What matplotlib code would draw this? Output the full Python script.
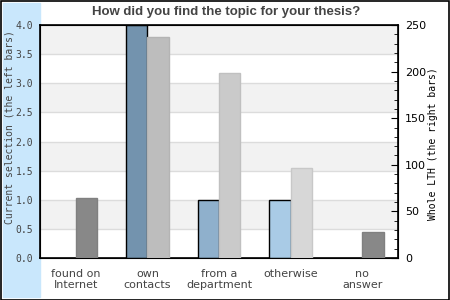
import numpy as np
import matplotlib
matplotlib.use("Agg")
import matplotlib.pyplot as plt
from matplotlib.patches import Rectangle
from matplotlib.ticker import MultipleLocator

# data
categories = ["found on\nInternet", "own\ncontacts", "from a\ndepartment", "otherwise", "no\nanswer"]
current = [0, 4, 1, 1, 0]
whole_lth = [64, 237, 199, 97, 28]
left_colors = ["#7393ae", "#7393ae", "#8fb0cc", "#a9cbe6", "#a9cbe6"]
right_colors = ["#888888", "#bdbdbd", "#cacaca", "#d7d7d7", "#888888"]
right_edges = ["#808080", "#b4b4b4", "#c0c0c0", "#c8c8c8", "#808080"]

txt = "#444444"
fig = plt.figure(figsize=(4.5, 3), dpi=100)

# light blue strip on the left and outer frame
fig.patches.append(Rectangle((3 / 450, 3 / 300), 37 / 450, 294 / 300,
                             transform=fig.transFigure, color="#c9e7fc", zorder=-2))
fig.patches.append(Rectangle((0.5 / 450, 0.5 / 300), 448.5 / 450, 298.5 / 300,
                             transform=fig.transFigure, fill=False,
                             edgecolor="black", lw=1.2, zorder=5))

ax = fig.add_axes([40 / 450, 42 / 300, 358 / 450, 233 / 300])
ax.set_xlim(0, 5)
ax.set_ylim(0, 4)
for lo in [0.5, 1.5, 2.5, 3.5]:
    ax.axhspan(lo, lo + 0.5, color="#f2f2f2", zorder=0, lw=0)
for y in np.arange(0.5, 4.0, 0.5):
    ax.axhline(y, color="#dcdcdc", lw=1, zorder=0.5)

x = np.arange(len(categories)) + 0.5
w = 0.3
for i in range(len(categories)):
    if current[i] > 0:
        ax.bar(x[i] - w / 2, current[i], w, color=left_colors[i],
               edgecolor="black", lw=1, zorder=3)

ax.set_yticks(np.arange(0, 4.01, 0.5))
ax.set_yticklabels([f"{v:.1f}" for v in np.arange(0, 4.01, 0.5)],
                   family="DejaVu Sans Mono", fontsize=7, color=txt)
ax.tick_params(axis="y", length=0, pad=5)
ax.set_xticks(x)
ax.set_xticklabels(categories, fontsize=8, color=txt, linespacing=1.1)
ax.tick_params(axis="x", length=0, pad=8)
ax.set_ylabel("Current selection (the left bars)", family="DejaVu Sans Mono",
              fontsize=7, color=txt, va="center")
ax.yaxis.set_label_coords(-30 / 358, 0.56)
for s in ax.spines.values():
    s.set_linewidth(1.2)

ax2 = ax.twinx()
ax2.set_ylim(0, 250)
ax2.bar(x + w / 2, whole_lth, w, color=right_colors, edgecolor=right_edges,
        lw=1, zorder=3)
ax2.yaxis.set_major_locator(MultipleLocator(50))
ax2.yaxis.set_minor_locator(MultipleLocator(10))
ax2.tick_params(axis="y", which="major", direction="in", length=5, labelsize=8,
                labelcolor="black", pad=5)
ax2.tick_params(axis="y", which="minor", direction="in", length=3)
for lab in ax2.get_yticklabels():
    lab.set_family("DejaVu Sans")
ax2.set_ylabel("Whole LTH (the right bars)", family="DejaVu Sans Mono",
               fontsize=7, color="black", va="center")
ax2.yaxis.set_label_coords(393 / 358, 0.49)

fig.text(226 / 450, 1 - 12 / 300, "How did you find the topic for your thesis?",
         ha="center", va="center", fontsize=9.5, fontweight="bold",
         family="Liberation Sans", color=txt)

fig.savefig("out.png", dpi=100)
